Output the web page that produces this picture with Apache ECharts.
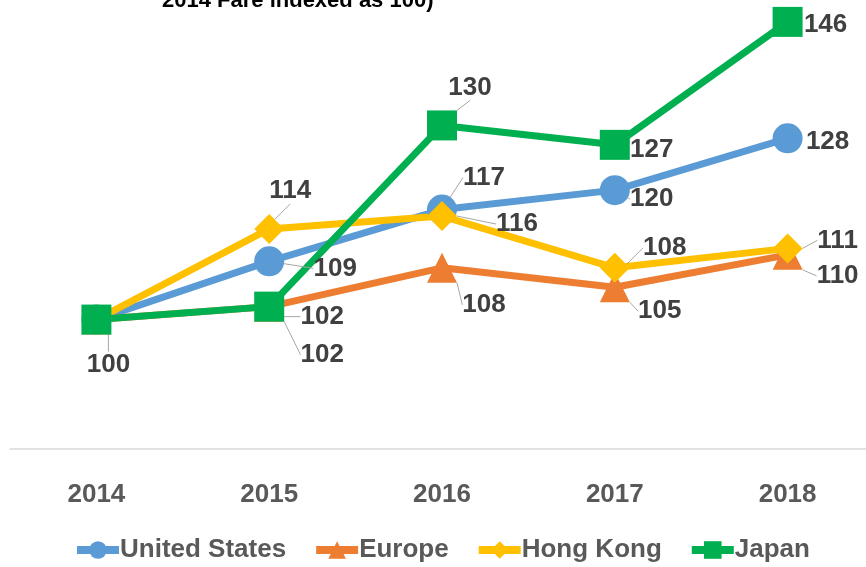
<!DOCTYPE html>
<html>
<head>
<meta charset="utf-8">
<script src="https://cdn.jsdelivr.net/npm/echarts@6/dist/echarts.min.js"></script>
<style>
html,body{margin:0;padding:0;background:#fff;}
#chart{width:866px;height:567px;}
</style>
</head>
<body>
<div id="chart"></div>
<script>
// 数据
var years = ['2014', '2015', '2016', '2017', '2018'];
var unitedStates = [100, 109, 117, 120, 128];
var europe = [100, 102, 108, 105, 110];
var hongKong = [100, 114, 116, 108, 111];
var japan = [100, 102, 130, 127, 146];

// 标签偏移 (相对于点)
var labelOffsets = [
    [null, [66, 7], [42, -32], [37, 9], [40, 3]],
    [null, [53, 48], [42, 37], [45, 24], [50, 21]],
    [null, [21, -38], [75, 8], [50, -20], [50, -8]],
    [[12, 45], [53, 10], [28, -38], [37, 5], [38, 3]]
];
// 是否显示引导线
var leaderLines = [
    [0, 1, 1, 1, 0],
    [0, 1, 1, 1, 1],
    [0, 1, 1, 1, 1],
    [1, 1, 1, 0, 0]
];

function buildData(values, seriesIdx){
    return values.map(function(v, i){
        var off = labelOffsets[seriesIdx][i];
        return {
            value: v,
            label: {show: off != null},
            labelLine: {show: !!leaderLines[seriesIdx][i]}
        };
    });
}

function makeSeries(name, values, idx, color, symbol){
    return {
        name: name,
        type: 'line',
        data: buildData(values, idx),
        symbol: symbol,
        symbolSize: 30,
        lineStyle: {color: color, width: 7},
        itemStyle: {color: color},
        label: {
            show: true,
            position: 'inside',
            color: '#404040',
            fontSize: 26,
            fontWeight: 'bold',
            fontFamily: 'Liberation Sans'
        },
        labelLine: {
            show: true,
            lineStyle: {color: '#A6A6A6', width: 1}
        },
        labelLayout: function(params){
            var off = labelOffsets[idx][params.dataIndex];
            if (!off) return {};
            return {dx: off[0], dy: off[1]};
        }
    };
}

var myChart = echarts.init(document.getElementById('chart'));
var option = {
    animation: false,
    grid: {left: 10, width: 864, top: -4, bottom: 118, containLabel: false, outerBoundsMode: 'none'},
    graphic: [{
        type: 'text',
        left: 162,
        top: -10,
        style: {
            text: '2014 Fare indexed as 100)',
            fill: '#000',
            font: 'bold 22px "Liberation Sans"'
        }
    }],
    legend: {
        bottom: -1,
        left: 68,
        itemWidth: 42,
        itemHeight: 22,
        itemGap: 26,
        lineStyle: {width: 8},
        textStyle: {
            color: '#595959',
            fontSize: 26,
            fontWeight: 'bold',
            fontFamily: 'Liberation Sans',
            padding: [0, 0, 0, -4]
        },
        data: ['United States', 'Europe', 'Hong Kong', 'Japan']
    },
    xAxis: {
        type: 'category',
        data: years,
        boundaryGap: true,
        axisLine: {lineStyle: {color: '#D9D9D9', width: 1.5}},
        axisTick: {show: false},
        axisLabel: {
            margin: 33,
            color: '#595959',
            fontSize: 26,
            fontWeight: 'bold',
            fontFamily: 'Liberation Sans'
        }
    },
    yAxis: {
        type: 'value',
        min: 80,
        max: 150,
        show: false,
        splitLine: {show: false}
    },
    series: [
        makeSeries('United States', unitedStates, 0, '#5B9BD5', 'circle'),
        makeSeries('Europe', europe, 1, '#ED7D31', 'triangle'),
        makeSeries('Hong Kong', hongKong, 2, '#FFC000', 'diamond'),
        makeSeries('Japan', japan, 3, '#00B050', 'rect')
    ]
};
myChart.setOption(option);
window.onresize = myChart.resize;
</script>
</body>
</html>
